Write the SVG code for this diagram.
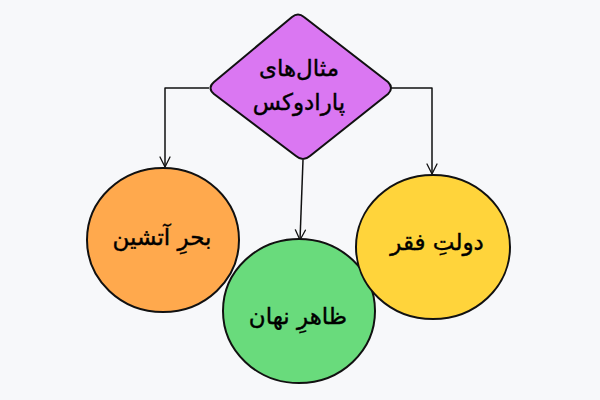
<svg xmlns="http://www.w3.org/2000/svg" width="600" height="400" viewBox="0 0 600 400">
<defs>
<marker id="arr" viewBox="0 0 12 12" refX="11" refY="6" markerWidth="12" markerHeight="12" markerUnits="userSpaceOnUse" orient="auto">
<path d="M1,1 L11,6 L1,11" fill="none" stroke="#111" stroke-width="1.3" stroke-linecap="round" stroke-linejoin="round"/>
</marker>
<style>
.lbl{font-family:"DejaVu Sans","Noto Sans",sans-serif;font-size:23px;fill:#000;stroke:#000;stroke-width:0.4;text-anchor:middle;direction:rtl}
.shape{stroke:#111;stroke-width:2}
.conn{fill:none;stroke:#111;stroke-width:1.5;stroke-linejoin:round}
</style>
</defs>
<rect width="600" height="400" fill="#f7f8fa"/>
<g id="connectors">
<path class="conn" d="M209,88 L165,88 L165,167" marker-end="url(#arr)"/>
<path class="conn" d="M392,88 L432,88 L432,174" marker-end="url(#arr)"/>
<path class="conn" d="M303,160 L300,240" marker-end="url(#arr)"/>
</g>
<g id="node-root">
<path class="shape" fill="#da77f2" d="M292,17 Q298,12 304,17 L388,82 Q394,88 388,94 L310,156 Q303,162 296,156 L214,94 Q207,88 214,82 Z"/>
<text class="lbl" x="299" y="76">مثال‌های</text>
<text class="lbl" x="299" y="110">پارادوکس</text>
</g>
<g id="node-sea">
<ellipse class="shape" fill="#ffa94d" cx="163" cy="240" rx="76" ry="72"/>
<text class="lbl" x="162" y="245">بحرِ آتشین</text>
</g>
<g id="node-hidden">
<ellipse class="shape" fill="#69db7c" cx="299" cy="311" rx="76" ry="72"/>
<text class="lbl" x="298" y="324">ظاهرِ نهان</text>
</g>
<g id="node-wealth">
<ellipse class="shape" fill="#ffd43b" cx="433" cy="247" rx="77" ry="72"/>
<text class="lbl" x="437" y="250">دولتِ فقر</text>
</g>
</svg>
